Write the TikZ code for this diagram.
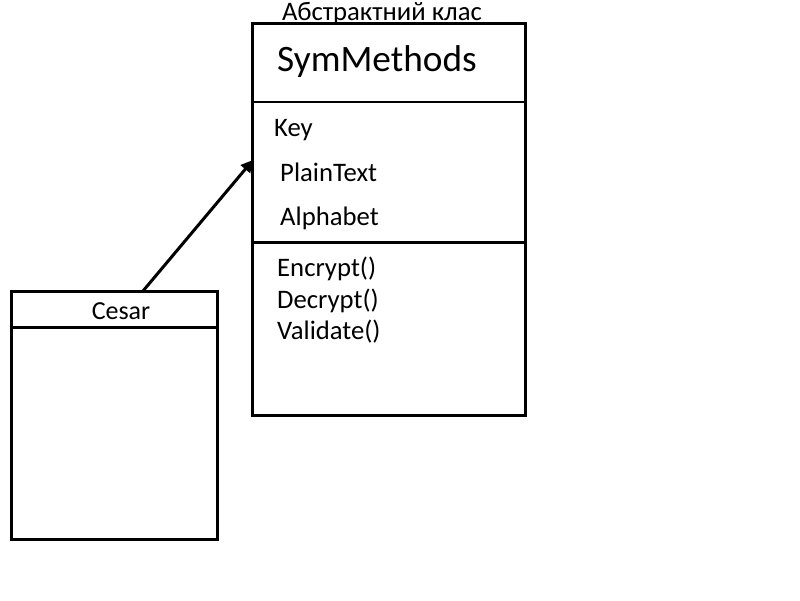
\documentclass[tikz,border=0pt]{standalone}
\usepackage{fontspec}
\setmainfont{Carlito}
\usetikzlibrary{arrows.meta}
\tikzstyle{cls}=[draw, line width=3pt, inner sep=0pt]
\tikzstyle{txt}=[anchor=base west, inner sep=0pt, font=\fontsize{26.7}{32}\selectfont]
\tikzstyle{sep}=[line width=3pt]

\begin{document}
\begin{tikzpicture}[x=1pt,y=-1pt]
	\useasboundingbox (0,0) rectangle (800,600);

		% Abstract class
		\node[cls, minimum width=273pt, minimum height=392pt] (sym) at (388.5,219) {};
		\node[anchor=base, inner sep=0pt, font=\fontsize{26.7}{32}\selectfont] (title) at (382,20) {Абстрактний клас};
		\node[anchor=base west, inner sep=0pt, font=\fontsize{37.3}{44}\selectfont] (name) at (277,71) {SymMethods};
		% Fields
		\foreach \xpos/\ypos/\lab/\txt in {274/136/key/Key, 280/181/plain/PlainText, 280/225/alpha/Alphabet}
		\node[txt] (\lab) at (\xpos,\ypos) {\txt};
		% Methods
		\foreach \ypos/\lab/\txt in {276/enc/Encrypt(), 308/dec/Decrypt(), 339/val/Validate()}
		\node[txt] (\lab) at (277,\ypos) {\txt};
		\draw[line width=2pt] (sym.west |- 0,102) -- (sym.east |- 0,102);
		\draw[sep] (sym.west |- 0,242) -- (sym.east |- 0,242);

		% Cesar
		\node[cls, minimum width=206pt, minimum height=248pt] (cesar) at (114,415) {};
		\node[anchor=base, inner sep=0pt, font=\fontsize{26}{31}\selectfont] (cname) at (121,319) {Cesar};
		\draw[sep] (cesar.west |- 0,327) -- (cesar.east |- 0,327);

		\node[coordinate] (from) at (143,291) {};
		\node[coordinate] (to) at (253,160) {};
		\draw[-{Triangle[length=12pt,width=12pt]}, line width=3pt] (from) -- (to);
\end{tikzpicture}
\end{document}
